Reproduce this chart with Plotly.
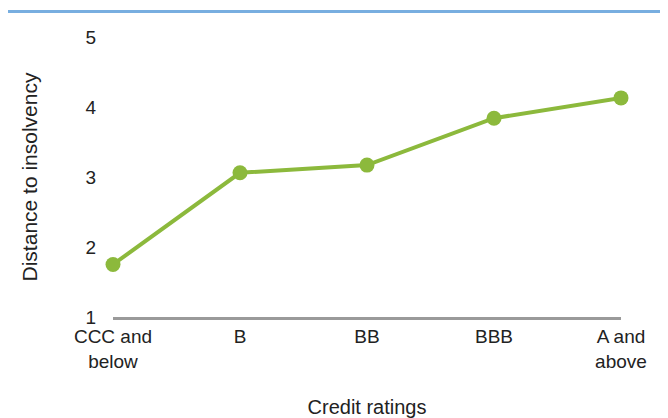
import plotly.graph_objects as go

# Credit rating buckets and distance-to-insolvency values
ratings = ["CCC and<br>below", "B", "BB", "BBB", "A and<br>above"]
distance = [1.75, 3.06, 3.17, 3.84, 4.13]
y_ticks = [1, 2, 3, 4, 5]

green = "#8cb93c"
font = "Liberation Sans, Arial, sans-serif"

fig = go.Figure()
fig.add_trace(go.Scatter(x=list(range(len(ratings))), y=distance, mode="lines+markers",
                         line=dict(color=green, width=4),
                         marker=dict(size=15, color=green),
                         cliponaxis=False, showlegend=False, hoverinfo="skip"))

fig.update_xaxes(tickmode="array", tickvals=list(range(len(ratings))), ticktext=ratings,
                 range=[0, len(ratings) - 1], showgrid=False, zeroline=False,
                 showline=True, linecolor="#9a9a9a", linewidth=3, ticks="", automargin=False,
                 tickfont=dict(size=19, color="#222222", family=font),
                 title=dict(text="Credit ratings", font=dict(size=20, color="#222222", family=font),
                            standoff=30))
fig.update_yaxes(range=[1, 5], tickvals=y_ticks, showgrid=False, zeroline=False,
                 showline=False, ticks="", ticklabelstandoff=16, automargin=False,
                 tickfont=dict(size=19, color="#222222", family=font),
                 title=dict(text="Distance to insolvency", font=dict(size=21, color="#222222", family=font),
                            standoff=42))

# thin blue rule across the top of the panel
fig.add_shape(type="line", xref="paper", yref="paper", x0=-0.207, x1=1.1, y0=1.091, y1=1.091,
              line=dict(color="#78aee0", width=3))

fig.update_layout(width=660, height=410, margin=dict(l=105, r=47, t=29, b=101),
                  plot_bgcolor="white", paper_bgcolor="white", font=dict(family=font))

fig.write_html("out.html")
